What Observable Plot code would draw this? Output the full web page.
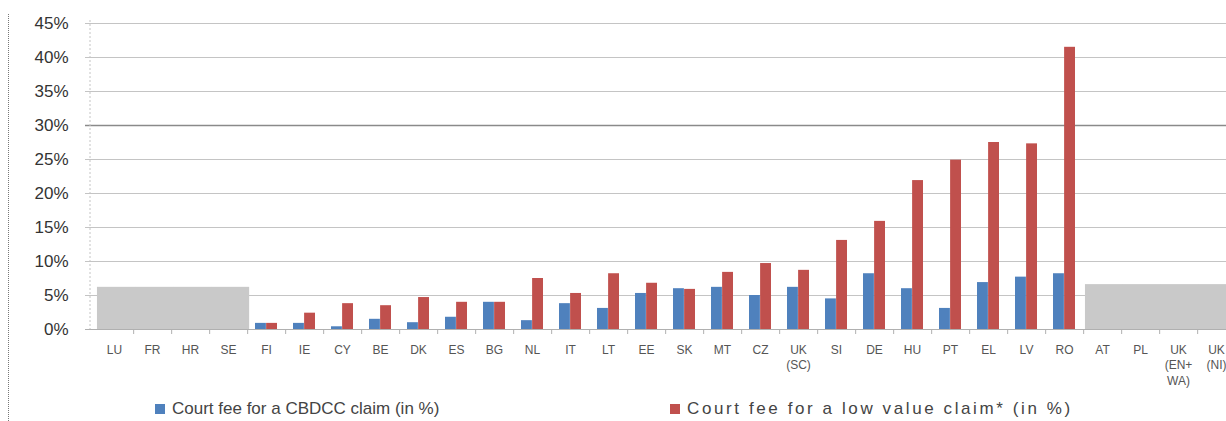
<!DOCTYPE html>
<html>
<head>
<meta charset="utf-8">
<script src="https://cdn.jsdelivr.net/npm/d3@7"></script>
<script src="https://cdn.jsdelivr.net/npm/@observablehq/plot@0.6"></script>
<style>
  html, body { margin: 0; padding: 0; background: #fff; overflow: hidden; }
  #wrap { position: relative; width: 1226px; height: 421px; font-family: "Liberation Sans", Arial, sans-serif; }
  #chart { position: absolute; left: 0; top: 0; }
  .border { position: absolute; left: 8px; top: 14px; height: 407px; border-left: 1px dotted #777; }
  .leg { position: absolute; top: 399px; font-size: 17px; color: #444; white-space: nowrap; display: flex; align-items: center; }
  .sw { display: inline-block; width: 10px; height: 10px; margin-right: 7px; }
</style>
</head>
<body>
<div id="wrap">
  <div class="border"></div>
  <div id="chart"></div>
  <div class="leg" style="left:155px"><span class="sw" style="background:#4F81BD"></span><span id="l1"></span></div>
  <div class="leg" style="left:670px"><span class="sw" style="background:#C0504D"></span><span id="l2" style="letter-spacing:2.6px"></span></div>
</div>
<script>
const categories = ["LU","FR","HR","SE","FI","IE","CY","BE","DK","ES","BG","NL","IT","LT","EE","SK","MT","CZ","UK\n(SC)","SI","DE","HU","PT","EL","LV","RO","AT","PL","UK\n(EN+\nWA)","UK\n(NI)"];
const feeCBDCC = [null,null,null,null,0.9,0.9,0.4,1.5,1.0,1.8,4.0,1.3,3.8,3.1,5.3,6.0,6.2,5.0,6.2,4.5,8.2,6.0,3.1,6.9,7.7,8.2,null,null,null,null];
const feeLowValue = [null,null,null,null,0.9,2.4,3.8,3.5,4.7,4.0,4.0,7.5,5.3,8.2,6.8,5.9,8.4,9.7,8.7,13.1,15.9,21.9,24.9,27.5,27.3,41.5,null,null,null,null];
const greyBlock = [6.2,6.2,6.2,6.2,null,null,null,null,null,null,null,null,null,null,null,null,null,null,null,null,null,null,null,null,null,null,6.6,6.6,6.6,6.6];
const yTicks = [0,5,10,15,20,25,30,35,40,45];
const seriesNames = ["Court fee for a CBDCC claim (in %)", "Court fee for a low value claim* (in %)"];

document.getElementById("l1").textContent = seriesNames[0];
document.getElementById("l2").textContent = seriesNames[1];

const blueRows = categories.map((c, i) => ({c, v: feeCBDCC[i]})).filter(d => d.v != null);
const redRows = categories.map((c, i) => ({c, v: feeLowValue[i]})).filter(d => d.v != null);
const greyRows = categories.map((c, i) => ({c, v: greyBlock[i]})).filter(d => d.v != null);

const xRange = [90, 1239.5];
const step = (xRange[1] - xRange[0]) / categories.length;
const bw = step * (1 - 0.42);
const half = bw / 2;
const ext = (step - bw) / 2;

const chart = Plot.plot({
  width: 1226,
  height: 392,
  marginTop: 23,
  marginBottom: 63,
  marginLeft: 90,
  marginRight: 0,
  style: {fontFamily: "Liberation Sans, Arial, sans-serif", color: "#444", overflow: "visible"},
  x: {domain: categories, range: xRange, paddingInner: 0.42, paddingOuter: 0.21, label: null},
  y: {domain: [0, 45], nice: false, label: null},
  marks: [
    Plot.ruleY(yTicks.filter(t => t !== 30 && t !== 0), {y: d => d, stroke: "#c4c4c4", strokeWidth: 1, insetLeft: -5}),
    Plot.ruleY([30], {stroke: "#8a8a8a", strokeWidth: 1.6, insetLeft: -5}),
    Plot.barY(greyRows, {x: "c", y: "v", fill: "#c9c9c9", insetLeft: -ext + 2, insetRight: -ext - 0.1 - 2}),
    Plot.barY(blueRows, {x: "c", y: "v", fill: "#4F81BD", insetRight: half}),
    Plot.barY(redRows, {x: "c", y: "v", fill: "#C0504D", insetLeft: half}),
    Plot.ruleY([0], {stroke: "#b0b0b0", strokeWidth: 1, insetLeft: -5}),
    Plot.ruleX(categories, {x: d => d, y1: 0, y2: 0, dx: step / 2, insetBottom: -5, stroke: "#b0b0b0"}),
    Plot.axisY({ticks: yTicks, tickFormat: d => d + "%", tickSize: 0, tickPadding: 22, fontSize: 17, fill: "#333"}),
    Plot.axisX({tickSize: 0, tickPadding: 13, fontSize: 12, lineHeight: 1.3, fill: "#555"})
  ]
});
document.getElementById("chart").appendChild(chart);
// vertical y-axis line
d3.select(chart).append("line")
  .attr("x1", 90).attr("x2", 90).attr("y1", 20).attr("y2", 329)
  .attr("stroke", "#c4c4c4").attr("stroke-dasharray", "2,2");
</script>
</body>
</html>
